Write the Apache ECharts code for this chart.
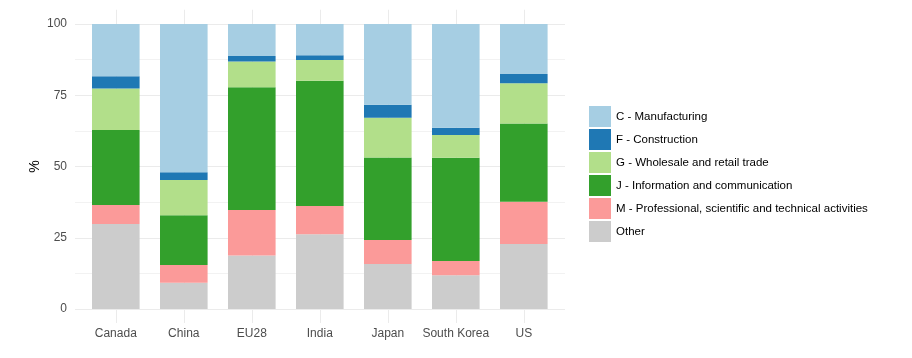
<!DOCTYPE html>
<html>
<head>
<meta charset="utf-8">
<script src="https://cdn.jsdelivr.net/npm/echarts@6/dist/echarts.min.js"></script>
<style>html,body{margin:0;padding:0;background:#fff}#c{width:912px;height:358px}</style>
</head>
<body>
<div id="c"></div>
<script>
const categories = ['Canada', 'China', 'EU28', 'India', 'Japan', 'South Korea', 'US'];
const other        = [29.8, 9.2, 18.8, 26.2, 15.8, 11.8, 22.8];
const profSci      = [6.7, 6.2, 15.9, 9.9, 8.4, 5.0, 14.8];
const infoComm     = [26.3, 17.5, 43.1, 44.0, 29.0, 36.3, 27.5];
const wholesale    = [14.6, 12.4, 9.0, 7.3, 13.9, 7.95, 14.1];
const construction = [4.3, 2.7, 2.0, 1.6, 4.6, 2.55, 3.3];
const manufacturing= [18.3, 52.0, 11.2, 11.0, 28.3, 36.4, 17.5];
const yTicks = [0, 25, 50, 75, 100];

const seriesDefs = [
  {name: 'Other', data: other, color: '#cccccc'},
  {name: 'M - Professional, scientific and technical activities', data: profSci, color: '#fb9a99'},
  {name: 'J - Information and communication', data: infoComm, color: '#33a02c'},
  {name: 'G - Wholesale and retail trade', data: wholesale, color: '#b2df8a'},
  {name: 'F - Construction', data: construction, color: '#1f78b4'},
  {name: 'C - Manufacturing', data: manufacturing, color: '#a6cee3'}
];

const font = 'Liberation Sans, Arial, Helvetica, sans-serif';
const chart = echarts.init(document.getElementById('c'), null, {renderer: 'canvas'});
const unit = 68;
const option = {
  animation: false,
  backgroundColor: '#ffffff',
  textStyle: {fontFamily: font},
  grid: [
    {left: 75, width: 490, top: 24, height: 285},
    {left: 75 + 0.1 * unit, width: 7 * unit, top: 24, height: 285},
    {left: 75 + 0.6 * unit, width: 6 * unit, top: 9.75, height: 313.25}
  ],
  xAxis: [
    {gridIndex: 0, type: 'value', show: false},
    {gridIndex: 1, type: 'category', data: categories, boundaryGap: true,
     axisLine: {show: false}, axisTick: {show: false}, splitLine: {show: false},
     axisLabel: {color: '#4d4d4d', fontSize: 12, margin: 19, interval: 0, fontFamily: font}},
    {gridIndex: 2, type: 'category', data: categories, boundaryGap: false,
     axisLine: {show: false}, axisTick: {show: false}, axisLabel: {show: false},
     splitLine: {show: true, interval: 0, lineStyle: {color: '#ebebeb', width: 1}}}
  ],
  yAxis: [
    {gridIndex: 0, type: 'value', min: yTicks[0], max: yTicks[yTicks.length - 1], interval: 25,
     name: '%', nameLocation: 'middle', nameGap: 33, nameRotate: 90, nameMoveOverlap: false,
     nameTextStyle: {color: '#000', fontSize: 14, fontFamily: font},
     axisLine: {show: false}, axisTick: {show: false},
     axisLabel: {color: '#4d4d4d', fontSize: 12, margin: 8, fontFamily: font},
     splitLine: {show: true, lineStyle: {color: '#ebebeb', width: 1}},
     minorTick: {show: false, splitNumber: 2},
     minorSplitLine: {show: true, lineStyle: {color: '#f2f2f2', width: 1}}},
    {gridIndex: 1, type: 'value', min: 0, max: 100, show: false},
    {gridIndex: 2, type: 'value', min: 0, max: 100, show: false}
  ],
  legend: {
    orient: 'vertical', left: 589, top: 106, padding: 0,
    itemWidth: 22, itemHeight: 21, itemGap: 2, icon: 'rect',
    data: seriesDefs.slice().reverse().map(s => s.name),
    textStyle: {color: '#000', fontSize: 11.5, fontFamily: font}
  },
  series: seriesDefs.map(s => ({
    name: s.name, type: 'bar', stack: 'total',
    xAxisIndex: 1, yAxisIndex: 1,
    barWidth: 0.7 * unit,
    data: s.data,
    itemStyle: {color: s.color},
    emphasis: {disabled: true}
  }))
};
chart.setOption(option);
</script>
</body>
</html>
